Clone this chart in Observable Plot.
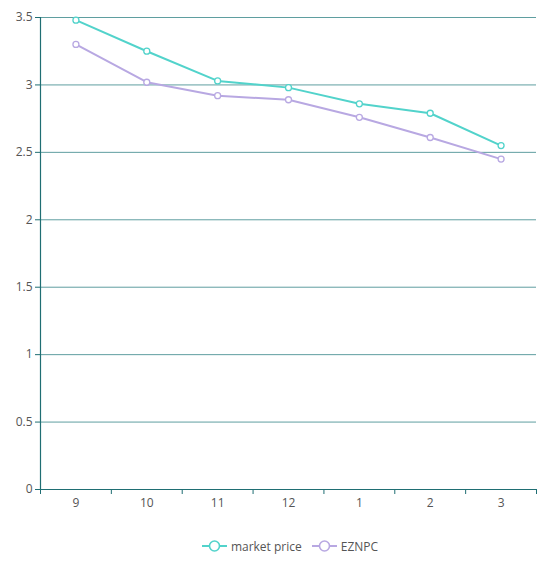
<!DOCTYPE html>
<html>
<head>
<meta charset="utf-8">
<script src="https://cdn.jsdelivr.net/npm/d3@7"></script>
<script src="https://cdn.jsdelivr.net/npm/@observablehq/plot@0.6"></script>
<style>
  body { margin: 0; background: #fff; font-family: "Open Sans", "Noto Sans", sans-serif; }
  #legend { display: flex; justify-content: center; gap: 10px; margin-top: 16px; padding-left: 24px; font-size: 12px; color: #555; height: 20px; align-items: center; }
  .item { display: flex; align-items: center; gap: 4px; }
</style>
</head>
<body>
<div id="chart"></div>
<div id="legend"></div>
<script>
const months = ["9", "10", "11", "12", "1", "2", "3"];
const marketPrice = [3.48, 3.25, 3.03, 2.98, 2.86, 2.79, 2.55];
const eznpc = [3.30, 3.02, 2.92, 2.89, 2.76, 2.61, 2.45];
const seriesNames = ["market price", "EZNPC"];
const seriesColors = ["#52d3cb", "#b8a8e2"];
const yTicks = [0, 0.5, 1, 1.5, 2, 2.5, 3, 3.5];

const rows = [];
[marketPrice, eznpc].forEach((vals, s) => {
  vals.forEach((v, i) => rows.push({ series: seriesNames[s], i: i + 0.5, month: months[i], value: v }));
});
const boundaries = d3.range(months.length + 1);
const centers = months.map((m, i) => i + 0.5);

const plot = Plot.plot({
  width: 556,
  height: 520,
  marginLeft: 40,
  marginRight: 20,
  marginTop: 17,
  marginBottom: 31,
  style: { fontFamily: "'Open Sans', 'Noto Sans', sans-serif", fontSize: "12px", color: "#555", background: "#fff" },
  x: { type: "linear", domain: [0, months.length] },
  y: { domain: [0, 3.5] },
  color: { domain: seriesNames, range: seriesColors },
  marks: [
    Plot.gridY(yTicks, { stroke: "#5f9ea0", strokeOpacity: 1 }),
    Plot.axisY(yTicks, { tickSize: 5, tickPadding: 3, stroke: "#1f6e73", tickFormat: d => String(d), label: null, fill: "#555", fontSize: 12 }),
    Plot.ruleX([0], { stroke: "#1f6e73", strokeWidth: 1.2 }),
    Plot.ruleY([0], { stroke: "#1f6e73", strokeWidth: 1.2 }),
    Plot.axisX(boundaries, { tickSize: 5, stroke: "#1f6e73", tickFormat: () => "", label: null }),
    Plot.axisX(centers, { tickSize: 0, tickPadding: 9, tickFormat: d => months[Math.floor(d)], label: null, fill: "#555", fontSize: 12 }),
    Plot.line(rows, { x: "i", y: "value", z: "series", stroke: "series", strokeWidth: 2 }),
    Plot.dot(rows, { x: "i", y: "value", stroke: "series", fill: "#fff", r: 3, strokeWidth: 1.3 })
  ]
});
document.getElementById("chart").appendChild(plot);

const legend = document.getElementById("legend");
seriesNames.forEach((name, s) => {
  const el = document.createElement("div");
  el.className = "item";
  el.innerHTML = `<svg width="25" height="14"><line x1="0" x2="25" y1="7" y2="7" stroke="${seriesColors[s]}" stroke-width="2"/><circle cx="12.5" cy="7" r="5" fill="#fff" stroke="${seriesColors[s]}" stroke-width="1.6"/></svg><span>${name}</span>`;
  legend.appendChild(el);
});
</script>
</body>
</html>
